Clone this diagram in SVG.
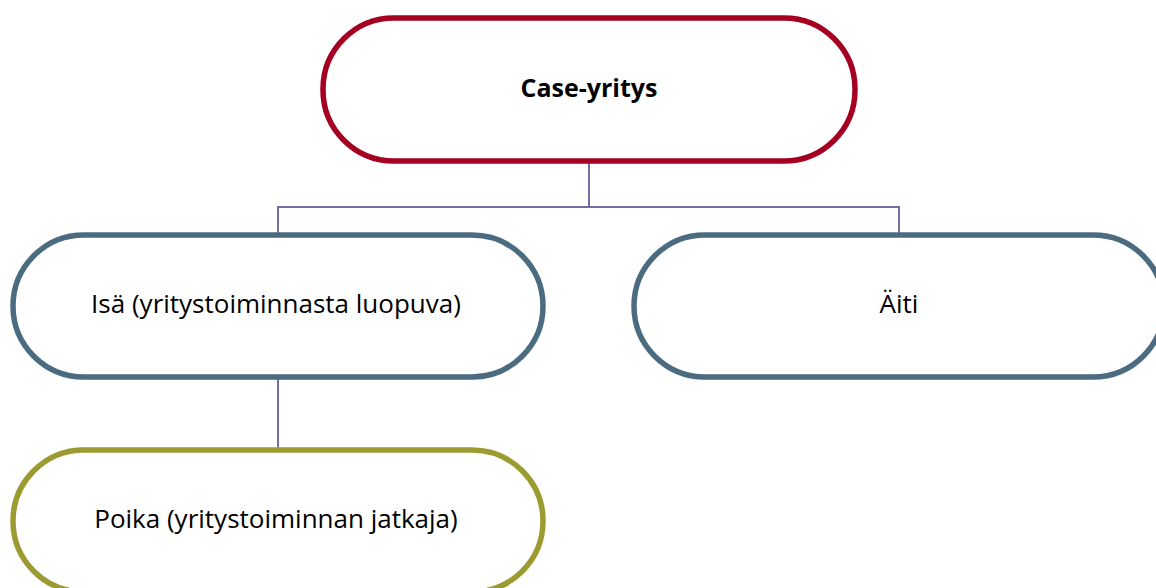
<svg xmlns="http://www.w3.org/2000/svg" width="1156" height="588" viewBox="0 0 1156 588">
<style>
.node{fill:#fff;stroke-width:5.5}
.red{stroke:#A50021}
.blue{stroke:#4B6B80}
.olive{stroke:#9C9B31}
.lbl{font-family:"Open Sans","Noto Sans",sans-serif;font-size:26px;fill:#000;text-anchor:middle}
.lbl.b{font-size:25px;font-weight:bold}
.conn{fill:none;stroke:#736FA6;stroke-width:2}
</style>
<rect width="1156" height="588" fill="#fff"/>
<g id="connectors">
<path class="conn" d="M589 162V207M278 234V207H899V234M278 377V449"/>
</g>
<g id="case">
<rect class="node red" x="323" y="18" width="532" height="143" rx="71" ry="71"/>
<text class="lbl b" x="589" y="97">Case-yritys</text>
</g>
<g id="isa">
<rect class="node blue" x="13" y="235" width="530" height="142" rx="71" ry="71"/>
<text class="lbl" x="276" y="313">Isä (yritystoiminnasta luopuva)</text>
</g>
<g id="aiti">
<rect class="node blue" x="634" y="235" width="530" height="142" rx="71" ry="71"/>
<text class="lbl" x="899" y="313">Äiti</text>
</g>
<g id="poika">
<rect class="node olive" x="13" y="450" width="530" height="142" rx="71" ry="71"/>
<text class="lbl" x="276" y="528">Poika (yritystoiminnan jatkaja)</text>
</g>
</svg>
